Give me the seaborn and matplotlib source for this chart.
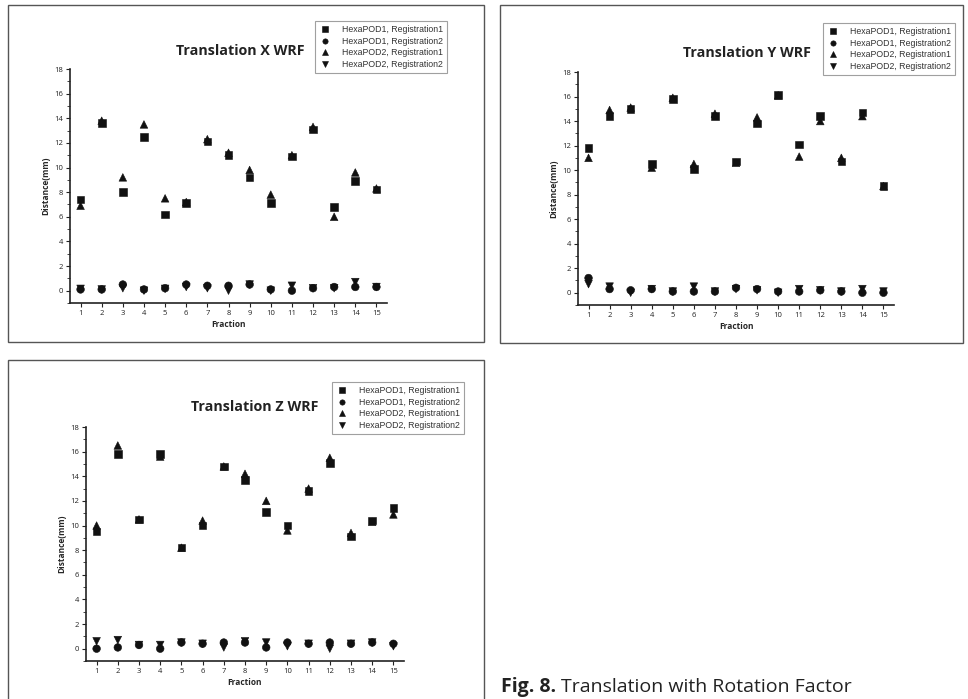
import matplotlib
matplotlib.use("Agg")
import matplotlib.pyplot as plt
import matplotlib.patches as mpatches
from matplotlib.ticker import MultipleLocator
import seaborn as sns
import pandas as pd

sns.set_style("white")
plt.rcParams['font.family'] = ['Open Sans', 'DejaVu Sans']

fractions = list(range(1, 16))
series_names = ["HexaPOD1, Registration1", "HexaPOD1, Registration2",
                "HexaPOD2, Registration1", "HexaPOD2, Registration2"]

# Translation X
x_p1_r1 = [7.4, 13.6, 8.0, 12.5, 6.2, 7.1, 12.1, 11.0, 9.2, 7.1, 10.9, 13.1, 6.8, 8.9, 8.2]
x_p1_r2 = [0.1, 0.1, 0.5, 0.1, 0.2, 0.5, 0.4, 0.4, 0.5, 0.1, 0.0, 0.2, 0.3, 0.3, 0.3]
x_p2_r1 = [6.9, 13.8, 9.2, 13.5, 7.5, 7.2, 12.3, 11.2, 9.8, 7.8, 11.0, 13.3, 6.0, 9.6, 8.3]
x_p2_r2 = [0.15, 0.1, 0.2, 0.0, 0.15, 0.3, 0.2, 0.0, 0.5, 0.0, 0.4, 0.2, 0.2, 0.7, 0.3]

# Translation Y
y_p1_r1 = [11.8, 14.4, 15.0, 10.5, 15.8, 10.1, 14.4, 10.7, 13.8, 16.1, 12.1, 14.4, 10.7, 14.7, 8.7]
y_p1_r2 = [1.2, 0.3, 0.2, 0.3, 0.1, 0.1, 0.1, 0.4, 0.3, 0.1, 0.1, 0.2, 0.1, 0.0, 0.0]
y_p2_r1 = [11.0, 14.9, 15.1, 10.2, 15.9, 10.5, 14.6, 10.6, 14.3, 16.1, 11.1, 14.0, 11.0, 14.4, 8.7]
y_p2_r2 = [0.7, 0.5, 0.0, 0.3, 0.1, 0.5, 0.1, 0.3, 0.2, 0.0, 0.3, 0.2, 0.1, 0.3, 0.1]

# Translation Z
z_p1_r1 = [9.5, 15.8, 10.5, 15.8, 8.2, 10.0, 14.8, 13.7, 11.1, 10.0, 12.8, 15.1, 9.1, 10.4, 11.4]
z_p1_r2 = [0.0, 0.1, 0.3, 0.0, 0.5, 0.4, 0.5, 0.5, 0.1, 0.5, 0.4, 0.5, 0.4, 0.5, 0.4]
z_p2_r1 = [10.0, 16.5, 10.5, 15.6, 8.2, 10.4, 14.8, 14.2, 12.0, 9.6, 13.0, 15.5, 9.4, 10.3, 10.9]
z_p2_r2 = [0.6, 0.7, 0.3, 0.3, 0.5, 0.4, 0.1, 0.6, 0.5, 0.2, 0.4, 0.0, 0.4, 0.5, 0.2]

titles = ["Translation X WRF", "Translation Y WRF", "Translation Z WRF"]
ytick_vals = [0, 2, 4, 6, 8, 10, 12, 14, 16, 18]
caption_bold = "Fig. 8."
caption_text = "Translation with Rotation Factor"

W, H = 968, 699
fig = plt.figure(figsize=(W / 100, H / 100), dpi=100)


def fx(px):
    return px / W


def fy(py):
    return 1 - py / H


def make_df(s1, s2, s3, s4):
    rows = []
    for name, vals in zip(series_names, [s1, s2, s3, s4]):
        for f, v in zip(fractions, vals):
            rows.append({"Fraction": f, "Distance": v, "Series": name})
    return pd.DataFrame(rows)


panels = [
    dict(data=make_df(x_p1_r1, x_p1_r2, x_p2_r1, x_p2_r2), title=titles[0],
         axes=(70, 69, 387, 303), border=(8, 5, 484, 342), title_xy=(240, 51),
         legend=(315, 21)),
    dict(data=make_df(y_p1_r1, y_p1_r2, y_p2_r1, y_p2_r2), title=titles[1],
         axes=(578, 72, 894, 305), border=(500, 5, 963, 343), title_xy=(747, 53),
         legend=(823, 23)),
    dict(data=make_df(z_p1_r1, z_p1_r2, z_p2_r1, z_p2_r2), title=titles[2],
         axes=(86, 427, 404, 661), border=(8, 360, 484, 720), title_xy=(255, 407),
         legend=(332, 382)),
]

markers = {series_names[0]: "s", series_names[1]: "o",
           series_names[2]: "^", series_names[3]: "v"}

for p in panels:
    bx0, by0, bx1, by1 = p["border"]
    fig.patches.append(mpatches.Rectangle((fx(bx0), fy(by1)), fx(bx1 - bx0), (by1 - by0) / H,
                                          transform=fig.transFigure, fill=False,
                                          edgecolor="#555555", linewidth=1.0))
    ax0, ay0, ax1, ay1 = p["axes"]
    ax = fig.add_axes([fx(ax0), fy(ay1), fx(ax1 - ax0), (ay1 - ay0) / H])
    sns.scatterplot(data=p["data"], x="Fraction", y="Distance", style="Series",
                    markers=markers, color="#111111", s=30, edgecolor="#111111",
                    linewidth=0.4, ax=ax, legend=True)
    ax.set_xlim(0.5, 15.5)
    ax.set_ylim(-1, 18)
    ax.set_xticks(fractions)
    ax.set_xticklabels([str(f) for f in fractions], fontsize=5.5)
    ax.set_yticks(ytick_vals)
    ax.set_yticklabels([str(v) for v in ytick_vals], fontsize=5.5)
    ax.yaxis.set_minor_locator(MultipleLocator(1))
    ax.tick_params(axis="both", which="major", direction="out", length=3, width=0.8,
                   pad=2, bottom=True, left=True, colors="#222222")
    ax.tick_params(axis="y", which="minor", direction="out", length=2, width=0.6, left=True)
    for side in ["top", "right"]:
        ax.spines[side].set_visible(False)
    for side in ["left", "bottom"]:
        ax.spines[side].set_color("#222222")
        ax.spines[side].set_linewidth(1.2)
    ax.set_xlabel("Fraction", fontsize=6, fontweight="bold", labelpad=2)
    ax.set_ylabel("Distance(mm)", fontsize=6, fontweight="bold", labelpad=3)
    ax.set_facecolor("none")
    lx, ly = p["legend"]
    leg = ax.legend(loc="upper left", bbox_to_anchor=(fx(lx), fy(ly)),
                    bbox_transform=fig.transFigure, fontsize=6.3, frameon=True,
                    fancybox=False, edgecolor="#888888", borderpad=0.45,
                    labelspacing=0.3, handletextpad=1.2, handlelength=1.4,
                    borderaxespad=0, markerscale=0.7,
                    prop={"family": ["Liberation Sans", "DejaVu Sans"], "size": 6.3})
    leg.get_frame().set_linewidth(0.8)
    for t in leg.get_texts():
        t.set_color("#333333")
    tx, ty = p["title_xy"]
    fig.text(fx(tx), fy(ty), p["title"], ha="center", va="center",
             fontsize=10.3, fontweight="bold", color="#222222")

t1 = fig.text(fx(501), fy(692), caption_bold, ha="left", va="baseline",
              fontsize=14, fontweight="bold", color="#222222")
fig.canvas.draw()
bb = t1.get_window_extent()
fig.text(bb.x1 / W + fx(5), fy(692), caption_text, ha="left", va="baseline",
         fontsize=14, color="#222222")

fig.savefig("out.png", dpi=100, facecolor="white")
